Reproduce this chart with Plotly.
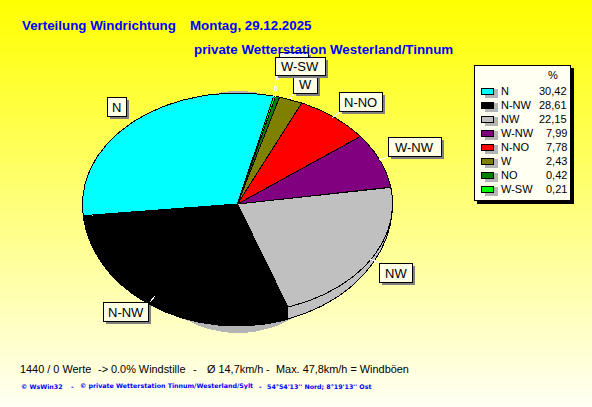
import numpy as np
import plotly.graph_objects as go

# ---- data -------------------------------------------------------------
directions = ["N", "N-NW", "NW", "W-NW", "N-NO", "W", "NO", "W-SW"]
percent = [30.42, 28.61, 22.15, 7.99, 7.78, 2.43, 0.42, 0.21]
percent_text = ["30,42", "28,61", "22,15", "7,99", "7,78", "2,43", "0,42", "0,21"]
colors = ["#00FFFF", "#000000", "#C0C0C0", "#800080", "#FF0000", "#808000", "#008000", "#00FF00"]

title_left = "Verteilung Windrichtung"
title_date = "Montag, 29.12.2025"
title_station = "private Wetterstation Westerland/Tinnum"
footer_1_parts = ["1440 / 0 Werte", "-> 0.0% Windstille", "-", "Ø 14,7km/h", "-", "Max. 47,8km/h = Windböen"]
footer_2_parts = ["© WsWin32", "-", "© private Wetterstation Tinnum/Westerland/Sylt", "-", "54°54'13'' Nord; 8°19'13'' Ost"]

# ---- geometry / style --------------------------------------------------
W, H = 592, 407
CX, CY = 237.5, 204.0
RX, RY = 155.0, 111.0
RY_INNER, RY_OUTER = 109.0, 121.5
START = 76.5
BLUE = "#0000FF"
BOX = "#FFFFE6"
FONT = "Liberation Sans"
footer_1_x = [20, 98, 193, 207, 266, 276]
footer_2_x = [21, 71, 80, 259, 267]

label_boxes = {  # x0, y0, x1, y1 in drawing order
    "NO": (279, 52, 308, 70),
    "W": (293, 75, 317, 93),
    "W-SW": (275, 57, 325, 75),
    "N": (107, 97, 126, 116),
    "N-NO": (339, 92, 382, 111),
    "W-NW": (388, 137, 441, 156),
    "NW": (379, 263, 412, 282),
    "N-NW": (103, 302, 148, 321),
}
leaders = {
    "N": (130, 119, 127, 116),
    "N-NW": (150, 302, 155, 296),
    "NW": (370, 259, 379, 263),
    "W-NW": (379, 160, 388, 157),
    "N-NO": (332, 118, 340, 112),
    "W": (290, 99, 294, 93),
    "NO": (275, 97, 279, 75),
    "W-SW": (273, 97, 277, 75),
}


def wedge(a0, a1, rx=RX, ry=RY, cx=CX, cy=CY, joint=None):
    """Elliptic slice; joint='end'/'start' routes that radial edge through the inner ellipse."""
    t = np.radians(np.linspace(a0, a1, 90))
    xs, ys = cx + rx * np.cos(t), cy - ry * np.sin(t)
    if joint == "end":
        xs = np.r_[xs, cx + rx * np.cos(t[-1])]
        ys = np.r_[ys, cy - RY_INNER * np.sin(t[-1])]
    if joint == "start":
        xs = np.r_[cx + rx * np.cos(t[0]), xs]
        ys = np.r_[cy - RY_INNER * np.sin(t[0]), ys]
    return np.r_[cx, xs, cx], np.r_[cy, ys, cy]


fig = go.Figure()

# background gradient
fig.add_trace(go.Scatter(
    x=[0, W, W, 0, 0], y=[0, 0, H, H, 0], mode="lines", line=dict(width=0),
    fill="toself",
    fillgradient=dict(type="vertical",
                      colorscale=[[0, "#FFFFF4"], [1, "#FFFF00"]]),
    hoverinfo="skip", showlegend=False))

# shadow under the pie
sx, sy = wedge(0, 360, rx=115, ry=121, cx=238, cy=212)
fig.add_trace(go.Scatter(x=sx[1:-1], y=sy[1:-1], mode="lines", line=dict(width=0),
                         fill="toself", fillcolor="#B4B4B4",
                         hoverinfo="skip", showlegend=False))

# slices, built from the percentages
edges = START + np.r_[0, np.cumsum(percent)] * 3.6
order = [0, 2, 3, 4, 5, 6, 7, 1]
for i in order:
    a0, a1 = edges[i], edges[i + 1]
    if directions[i] == "NW":
        x, y = wedge(a0, a1, ry=RY_OUTER, joint="start")
        fig.add_trace(go.Scatter(x=x, y=y, mode="lines", line=dict(color="black", width=1),
                                 fill="toself", fillcolor=colors[i],
                                 hoverinfo="skip", showlegend=False))
        x, y = wedge(a0, a1, ry=RY_INNER)
    elif directions[i] == "N-NW":
        x, y = wedge(a0, a1, ry=122, joint="end")
    else:
        x, y = wedge(a0, a1)
    fig.add_trace(go.Scatter(x=x, y=y, mode="lines", line=dict(color="black", width=1),
                             fill="toself", fillcolor=colors[i], name=directions[i],
                             hoverinfo="skip", showlegend=False))

shapes, ann = [], []


def text(x, y, s, size=11, color="black", anchor="left", bold=False, font=FONT):
    ann.append(dict(x=x, y=y, xref="x", yref="y", text=f"<b>{s}</b>" if bold else s,
                    showarrow=False, xanchor=anchor, yanchor="middle",
                    font=dict(family=font, size=size, color=color),
                    borderpad=0, borderwidth=0))


def rect(x0, y0, x1, y1, fill, line=None):
    shapes.append(dict(type="rect", xref="x", yref="y", x0=x0, y0=y0, x1=x1, y1=y1,
                       fillcolor=fill, line=dict(color=line or fill, width=1 if line else 0)))


# leader lines
for x0, y0, x1, y1 in leaders.values():
    shapes.append(dict(type="line", xref="x", yref="y", x0=x0, y0=y0, x1=x1, y1=y1,
                       line=dict(color="white", width=1)))

# labels with drop shadows
for name, (x0, y0, x1, y1) in label_boxes.items():
    rect(x0 + 3, y0 + 3, x1 + 3, y1 + 3, "#808080")
    rect(x0, y0, x1, y1, BOX, "black")
    if name != "NO":
        text((x0 + x1) / 2, (y0 + y1) / 2 + 0.5, name, size=13, anchor="center")

# legend
rect(477, 68, 574, 204, "black")
rect(474, 65, 570, 200, "#FFFFF2", "black")
text(552.5, 75, "%", size=11, anchor="center")
for k, (name, val, col) in enumerate(zip(directions, percent_text, colors)):
    yc = 91 + 14 * k
    rect(485, yc - 2, 498, yc + 7, "#B4B4B4")
    rect(481, yc - 3, 493, yc + 3, col, "black")
    text(501, yc, name, size=11)
    text(567, yc, val, size=11, anchor="right")

# titles and footers
text(22, 25, title_left, size=13.33, color=BLUE, bold=True)
text(189.5, 25, title_date, size=13.33, color=BLUE, bold=True)
text(193.5, 49, title_station, size=13.33, color=BLUE, bold=True)
for fx, part in zip(footer_1_x, footer_1_parts):
    text(fx, 369, part, size=10.9)
for fx, part in zip(footer_2_x, footer_2_parts):
    text(fx, 386, part, size=6.3, color=BLUE, bold=True, font="DejaVu Sans")

fig.update_layout(
    width=W, height=H, margin=dict(l=0, r=0, t=0, b=0, pad=0),
    paper_bgcolor="#FFFF80", plot_bgcolor="#FFFF80",
    xaxis=dict(range=[0, W], visible=False, fixedrange=True),
    yaxis=dict(range=[H, 0], visible=False, fixedrange=True),
    shapes=shapes, annotations=ann, showlegend=False)

crisp = ("var f=function(){document.querySelectorAll('svg path').forEach("
         "function(p){p.style.shapeRendering='crispEdges';});};f();setTimeout(f,50);")
fig.write_html("out.html", config=dict(displayModeBar=False),
               post_script="document.body.style.margin='0';document.body.style.overflow='hidden';" + crisp)
